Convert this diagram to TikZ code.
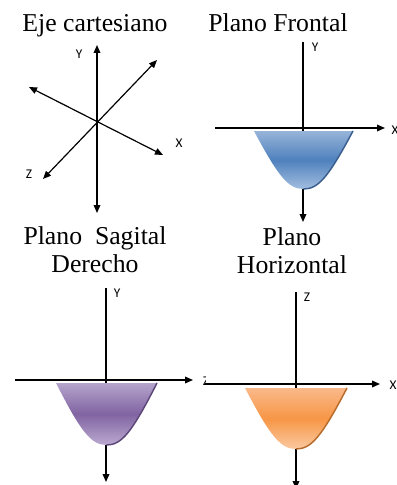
\documentclass[tikz,border=0pt]{standalone}
\usepackage{fontspec}
\setmainfont{Liberation Serif}
\newfontfamily\ejefont{Carlito}
\usetikzlibrary{arrows.meta}

\definecolor{azulTop}{HTML}{97B4D9}
\definecolor{azulMid}{HTML}{4F81BD}
\definecolor{azulBot}{HTML}{A3BEE0}
\definecolor{azulRim}{HTML}{3A5F8E}
\definecolor{moradoTop}{HTML}{B5A4CB}
\definecolor{moradoMid}{HTML}{8064A2}
\definecolor{moradoBot}{HTML}{BBAAD0}
\definecolor{moradoRim}{HTML}{5E4879}
\definecolor{naranjaTop}{HTML}{FAB98A}
\definecolor{naranjaMid}{HTML}{F79646}
\definecolor{naranjaBot}{HTML}{FBC9A0}
\definecolor{naranjaRim}{HTML}{B86C2C}

% bowl: center x, top y, half width, depth, colour prefix
\newcommand{\cuenco}[5]{%
  \shade[top color=#5Top, bottom color=#5Bot, middle color=#5Mid]
    ({#1-#3},#2) -- ({#1+#3},#2)
    .. controls ({#1+0.5*#3},{#2+0.8*#4}) and ({#1+0.3*#3},{#2+#4}) .. (#1,{#2+#4})
    .. controls ({#1-0.3*#3},{#2+#4}) and ({#1-0.5*#3},{#2+0.8*#4}) .. cycle;
  \draw[#5Rim, line width=1.1pt]
    ({#1+#3},#2)
    .. controls ({#1+0.5*#3},{#2+0.8*#4}) and ({#1+0.3*#3},{#2+#4}) .. (#1,{#2+#4});
}

\begin{document}
\begin{tikzpicture}[x=0.75pt, y=-0.75pt,
    titulo/.style={font=\fontsize{19.3}{21}\selectfont, align=center,
        anchor=base, inner sep=0pt},
    etiq/.style={font=\ejefont\fontsize{10}{11}\selectfont, inner sep=0pt},
    eje/.style={line width=0.9pt},
    flecha/.style={eje, -{Triangle[length=6pt, width=5pt]}},
    doble/.style={eje, {Triangle[length=6pt, width=5pt]}-{Triangle[length=6pt, width=5pt]}},
  ]
  \useasboundingbox (0,0) rectangle (396,485);

  % Titles
  \node[titulo] (tEje) at (95,32) {Eje cartesiano};
  \node[titulo] (tFrontal) at (278,32) {Plano Frontal};
  \node[titulo] (tSagital) at (95,272) {Plano\ \ Sagital\\Derecho};
  \node[titulo] (tHoriz) at (292,273) {Plano\\Horizontal};

  % Eje cartesiano
  \coordinate (yA) at (97,45);
  \coordinate (yB) at (97,213);
  \coordinate (xA) at (29,87);
  \coordinate (xB) at (163,155);
  \coordinate (zA) at (43,179);
  \coordinate (zB) at (157,60);
  \draw[doble] (yB) -- (yA);
  \draw[doble] (xA) -- (xB);
  \draw[doble] (zA) -- (zB);
  \node[etiq] (lY1) at (79,54) {Y};
  \node[etiq] (lX1) at (179,143) {X};
  \node[etiq] (lZ1) at (29,174) {Z};

  % Plano Frontal
  \coordinate (fT) at (303,42);
  \coordinate (fB) at (303,222);
  \coordinate (fL) at (215,128);
  \coordinate (fR) at (385,128);
  \draw[flecha] (fT) -- (fB);
  \draw[flecha] (fL) -- (fR);
  \cuenco{303.5}{131}{49.5}{58}{azul}
  \node[etiq] (lY2) at (315,47) {Y};
  \node[etiq] (lX2) at (395,130) {X};

  % Plano Sagital Derecho
  \coordinate (sT) at (106,288);
  \coordinate (sB) at (106,482);
  \coordinate (sL) at (15,380);
  \coordinate (sR) at (193,380);
  \draw[flecha] (sT) -- (sB);
  \draw[flecha] (sL) -- (sR);
  \cuenco{106.5}{383}{50.5}{62}{morado}
  \node[etiq] (lY3) at (117,293) {Y};
  \begin{scope}
    \clip (195,370) rectangle (205,395);
    \node[etiq] (lZ3) at (206,381) {Z};
  \end{scope}

  % Plano Horizontal
  \coordinate (hT) at (296,292);
  \coordinate (hB) at (296,489);
  \coordinate (hL) at (205,384);
  \coordinate (hR) at (380,384);
  \draw[flecha] (hT) -- (hB);
  \draw[flecha] (hL) -- (hR);
  \cuenco{296}{388}{51}{61}{naranja}
  \node[etiq] (lZ4) at (307,297) {Z};
  \node[etiq] (lX4) at (393,385) {X};
\end{tikzpicture}
\end{document}
